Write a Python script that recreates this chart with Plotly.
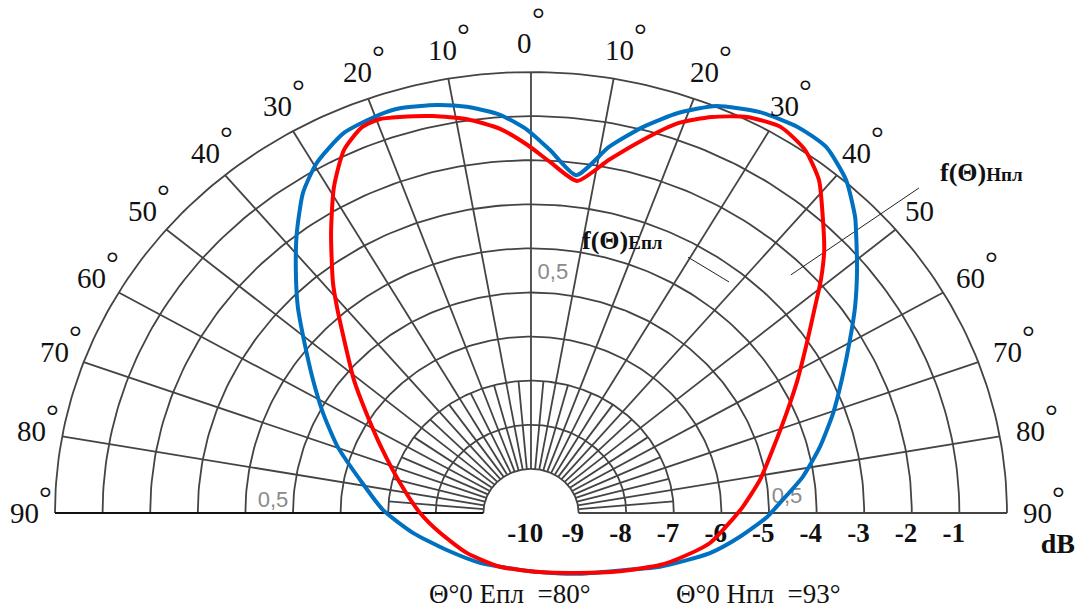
import numpy as np
import plotly.graph_objects as go

# ---------------- data ----------------
ring_levels = list(range(1, 11))                 # concentric rings (0.1 ... 1.0)
major_spokes = list(range(-80, 81, 10))          # degrees from boresight
minor_spokes = list(range(-85, 86, 10))          # short 5-degree spokes
angle_labels = [0, 10, 20, 30, 40, 50, 60, 70, 80, 90]
db_ticks = [-10, -9, -8, -7, -6, -5, -4, -3, -2, -1]

# H-plane pattern f(Θ)Hпл (blue), in ring units
h_plane_x = [0.95, 0.40, -0.08, -0.65, -1.35, -1.98, -2.75, -3.19, -3.93, -4.50,
             -4.79, -4.92, -4.94, -4.90, -4.77, -4.58, -4.37, -4.06, -3.59, -3.11,
             -2.48, -1.77, -1.07, -0.02, 0.95, 2.00, 2.71, 3.76, 4.39, 4.96,
             5.23, 5.71, 6.07, 6.35, 6.53, 6.70, 6.81, 6.85, 6.83, 6.81,
             6.62, 6.20, 5.61, 4.81, 3.89, 3.09, 2.35, 1.64, 0.95]
h_plane_y = [7.66, 8.23, 8.69, 9.03, 9.21, 9.25, 9.18, 9.03, 8.62, 7.94,
             7.26, 6.35, 5.51, 4.69, 3.92, 3.02, 2.27, 1.50, 0.75, 0.07,
             -0.45, -0.84, -1.13, -1.32, -1.38, -1.29, -1.22, -0.91, -0.54, -0.09,
             0.23, 0.82, 1.50, 2.27, 3.02, 3.92, 4.69, 5.51, 6.35, 6.71,
             7.55, 8.30, 8.75, 9.09, 9.23, 9.07, 8.75, 8.30, 7.66]

# E-plane pattern f(Θ)Eпл (red), in ring units
e_plane_x = [0.97, 0.40, -0.08, -0.65, -1.34, -2.06, -2.75, -3.19, -3.55, -3.93,
             -4.14, -4.20, -4.16, -4.08, -3.93, -3.72, -3.46, -3.15, -2.75, -2.33,
             -1.91, -1.34, -0.65, 0.19, 0.97, 1.87, 2.71, 3.13, 3.76, 4.22,
             4.45, 4.81, 5.10, 5.37, 5.60, 5.81, 5.97, 6.09, 6.16, 6.13,
             6.05, 5.76, 5.25, 4.54, 3.80, 3.09, 2.35, 1.64, 0.97]
e_plane_y = [7.53, 7.96, 8.35, 8.71, 8.93, 9.00, 8.98, 8.93, 8.75, 8.23,
             7.39, 6.35, 5.22, 4.69, 3.95, 3.02, 2.27, 1.50, 0.68, 0.00,
             -0.45, -0.91, -1.22, -1.34, -1.36, -1.32, -1.18, -1.02, -0.68, -0.16,
             0.14, 0.75, 1.50, 2.27, 3.02, 3.92, 4.69, 5.28, 5.96, 6.71,
             7.55, 8.23, 8.75, 8.98, 8.98, 8.84, 8.46, 8.01, 7.53]

SERIF = "Liberation Serif, Times New Roman, serif"
GRID = "#444444"


def polar_xy(r, deg):
    t = np.radians(deg)
    return r * np.sin(t), r * np.cos(t)


fig = go.Figure()

# ---------------- grid ----------------
gx, gy = [], []
arc = np.linspace(-90, 90, 181)
for r in ring_levels:
    x, y = polar_xy(r, arc)
    gx += list(x) + [None]
    gy += list(y) + [None]
for a in major_spokes + [90]:
    x, y = polar_xy(np.array([ring_levels[0], ring_levels[-1]]), a)
    gx += list(x) + [None]
    gy += list(y) + [None]
for a in minor_spokes:
    x, y = polar_xy(np.array([ring_levels[0], 3]), a)
    gx += list(x) + [None]
    gy += list(y) + [None]
fig.add_trace(go.Scatter(x=gx, y=gy, mode="lines",
                         line=dict(color=GRID, width=1.8), hoverinfo="skip"))
bx, by = polar_xy(np.array([ring_levels[0], ring_levels[-1]]), -90)
fig.add_trace(go.Scatter(x=bx, y=by, mode="lines",
                         line=dict(color="#111111", width=2), hoverinfo="skip"))

# "0,5" marks (gray, printed on the paper)
fig.add_trace(go.Scatter(x=[0.46, -5.42, 5.38], y=[5.44, 0.27, 0.36], mode="text",
                         text=["0,5", "0,5", "0,5"],
                         textfont=dict(family="Liberation Sans, Arial", size=22, color="#8a8a8a"),
                         hoverinfo="skip"))

# dB labels along the baseline
fig.add_trace(go.Scatter(x=[d + 10 - 0.12 for d in db_ticks], y=[-0.5] * len(db_ticks),
                         mode="text", text=[f"<b>{d}</b>" for d in db_ticks],
                         textfont=dict(family=SERIF, size=27, color="#111111"),
                         hoverinfo="skip"))
fig.add_trace(go.Scatter(x=[11.07], y=[-0.75], mode="text", text=["<b>dB</b>"],
                         textfont=dict(family=SERIF, size=28, color="#111111"),
                         hoverinfo="skip"))

# leader lines for curve labels
fig.add_trace(go.Scatter(x=[3.30, 4.16, None, 8.15, 5.46], y=[5.80, 5.24, None, 7.37, 5.40],
                         mode="lines", line=dict(color="#222222", width=1), hoverinfo="skip"))

# ---------------- patterns ----------------
fig.add_trace(go.Scatter(x=h_plane_x, y=h_plane_y, mode="lines", name="f(Θ)Hпл",
                         line=dict(color="#0070C0", width=4, shape="spline", smoothing=0.6)))
fig.add_trace(go.Scatter(x=e_plane_x, y=e_plane_y, mode="lines", name="f(Θ)Eпл",
                         line=dict(color="#FF0000", width=4, shape="spline", smoothing=0.6)))

# ---------------- annotations ----------------
ann = []
R_LAB = 10.65
for a in angle_labels:
    sides = [0] if a == 0 else [-1, 1]
    for s in sides:
        th = a if s == 0 else s * a
        x, y = polar_xy(R_LAB, th)
        xs = -6 if a == 0 else 0
        ann.append(dict(x=float(x), y=float(y), text=str(a), showarrow=False, xshift=xs,
                        font=dict(family=SERIF, size=29, color="#111111")))
        if not (s == 1 and a == 50):
            ann.append(dict(x=float(x), y=float(y), text="°", showarrow=False,
                            xshift=21 if a else 8, yshift=15 if a else 24,
                            font=dict(family=SERIF, size=32, color="#111111")))

ann.append(dict(x=1.93, y=6.19, showarrow=False,
                text="<b>f(Θ)</b><b><span style='font-size:19px'>Eпл</span></b>",
                font=dict(family=SERIF, size=26, color="#111111")))
ann.append(dict(x=9.47, y=7.73, showarrow=False,
                text="<b>f(Θ)</b><b><span style='font-size:19px'>Hпл</span></b>",
                font=dict(family=SERIF, size=26, color="#111111")))
ann.append(dict(x=-0.44, y=-1.84, showarrow=False, text="Θ°0 Епл\u00a0\u00a0=80°",
                font=dict(family=SERIF, size=27, color="#111111")))
ann.append(dict(x=4.79, y=-1.84, showarrow=False, text="Θ°0 Нпл\u00a0\u00a0=93°",
                font=dict(family=SERIF, size=27, color="#111111")))

fig.update_layout(
    width=1080, height=612,
    margin=dict(l=0, r=0, t=0, b=0),
    paper_bgcolor="white", plot_bgcolor="white",
    showlegend=False,
    xaxis=dict(range=[-11.155, 11.534], visible=False, fixedrange=True),
    yaxis=dict(range=[-2.245, 11.633], visible=False, fixedrange=True),
    annotations=ann,
)

fig.write_html("out.html", config={"displayModeBar": False},
               post_script="document.body.style.margin='0';document.body.style.overflow='hidden';")
